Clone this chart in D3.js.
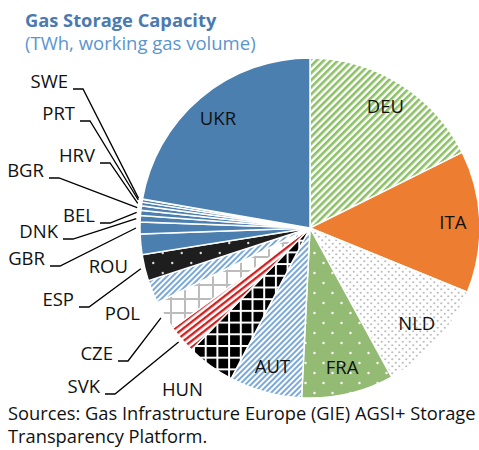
<!DOCTYPE html>
<html>
<head>
<meta charset="utf-8">
<script src="https://cdn.jsdelivr.net/npm/d3@7"></script>
<style>
  body { margin: 0; background: #fff; }
  text { font-family: "Open Sans", "Noto Sans", sans-serif; }
</style>
</head>
<body>
<svg id="chart" width="479" height="450"></svg>
<script>
// data, clockwise from 12 o'clock (TWh)
const countries = ["DEU", "ITA", "NLD", "FRA", "AUT", "HUN", "SVK", "CZE", "POL", "ESP",
                   "ROU", "GBR", "DNK", "BEL", "BGR", "HRV", "PRT", "SWE", "UKR"];
const capacity  = [254, 194, 156, 126, 99, 66, 39, 40, 32, 36,
                   28, 16, 9, 7, 6, 5, 4, 0.4, 320];

// labels drawn inside their slice
const insideLabels = ["UKR", "DEU", "ITA", "NLD", "FRA", "AUT"];

// outside labels: text end x, baseline y, with or without leader line
const outsideLabels = [
    {c: "SWE", x: 68,  y: 88,  leader: true},
    {c: "PRT", x: 75,  y: 120, leader: true},
    {c: "HRV", x: 95,  y: 162, leader: true},
    {c: "BGR", x: 44,  y: 177, leader: true},
    {c: "BEL", x: 95,  y: 222, leader: true},
    {c: "DNK", x: 58,  y: 238, leader: true},
    {c: "GBR", x: 45,  y: 265, leader: true},
    {c: "ROU", x: 128, y: 273, leader: false},
    {c: "ESP", x: 74,  y: 306, leader: true},
    {c: "POL", x: 140, y: 320, leader: false},
    {c: "CZE", x: 113, y: 360, leader: true},
    {c: "SVK", x: 100, y: 393, leader: true},
    {c: "HUN", x: 203, y: 396, leader: false}
];

const svg = d3.select("#chart");
const defs = svg.append("defs");

function stripes(id, color, period, w, angle) {
    const p = defs.append("pattern").attr("id", id)
        .attr("patternUnits", "userSpaceOnUse")
        .attr("width", period).attr("height", period)
        .attr("patternTransform", `rotate(${angle})`);
    p.append("rect").attr("width", period).attr("height", period).attr("fill", "#fff");
    p.append("rect").attr("width", w).attr("height", period).attr("fill", color);
}

function grid(id, bg, line, period, lw) {
    const p = defs.append("pattern").attr("id", id)
        .attr("patternUnits", "userSpaceOnUse")
        .attr("width", period).attr("height", period);
    p.append("rect").attr("width", period).attr("height", period).attr("fill", bg);
    p.append("rect").attr("width", lw).attr("height", period).attr("fill", line);
    p.append("rect").attr("width", period).attr("height", lw).attr("fill", line);
}

function dots(id, bg, dot, w, h, r) {
    const p = defs.append("pattern").attr("id", id)
        .attr("patternUnits", "userSpaceOnUse")
        .attr("width", w).attr("height", h);
    p.append("rect").attr("width", w).attr("height", h).attr("fill", bg);
    p.append("circle").attr("cx", w / 4).attr("cy", h / 4).attr("r", r).attr("fill", dot);
    p.append("circle").attr("cx", 3 * w / 4).attr("cy", 3 * h / 4).attr("r", r).attr("fill", dot);
}

stripes("pDEU", "#8cc066", 5, 2.6, 45);
stripes("pAUT", "#7aa8d8", 4, 2, 45);
stripes("pPOL", "#7aa8d8", 4, 2, 45);
stripes("pSVK", "#cc2222", 5, 2.4, 52);
grid("pHUN", "#000", "#fff", 11.7, 2);
grid("pCZE", "#fff", "#bcbcbc", 14, 2);
dots("pNLD", "#fff", "#bdbdbd", 7, 7, 1.1);
dots("pFRA", "#94bb74", "#fff", 18, 20, 1.2);
dots("pESP", "#1e1e1e", "#ddd", 19, 20, 1.2);

const solidBlue = "#4b7fb0";
const fillOf = {
    DEU: "url(#pDEU)", ITA: "#ed7d31", NLD: "url(#pNLD)", FRA: "url(#pFRA)",
    AUT: "url(#pAUT)", HUN: "url(#pHUN)", SVK: "url(#pSVK)", CZE: "url(#pCZE)",
    POL: "url(#pPOL)", ESP: "url(#pESP)"
};

// titles
svg.append("text").attr("x", 25).attr("y", 27)
    .attr("font-size", 18.3).attr("font-weight", "bold").attr("fill", "#4a7ab0")
    .text("Gas Storage Capacity");
svg.append("text").attr("x", 25).attr("y", 50)
    .attr("font-size", 18.5).attr("fill", "#5b95cf")
    .text("(TWh, working gas volume)");

// pie
const cx = 310, cy = 228, R = 170;
const data = countries.map((c, i) => ({c: c, v: capacity[i]}));
const pie = d3.pie().sort(null).value(d => d.v).startAngle(0).endAngle(2 * Math.PI);
const arcs = pie(data);
const arc = d3.arc().innerRadius(0).outerRadius(R);
const labelArc = d3.arc().innerRadius(143).outerRadius(143);

const g = svg.append("g").attr("transform", `translate(${cx},${cy})`);
g.selectAll("path.slice")
    .data(arcs)
    .enter()
    .append("path")
    .attr("class", "slice")
    .attr("d", arc)
    .attr("fill", d => fillOf[d.data.c] || solidBlue)
    .attr("stroke", "#fff")
    .attr("stroke-width", 1.5);

g.selectAll("text.inlab")
    .data(arcs.filter(d => insideLabels.includes(d.data.c)))
    .enter()
    .append("text")
    .attr("class", "inlab")
    .attr("transform", d => `translate(${labelArc.centroid(d)})`)
    .attr("text-anchor", "middle")
    .attr("dy", "0.36em")
    .attr("font-size", 18.5)
    .attr("fill", "#111")
    .text(d => d.data.c);

// outside labels with leader lines
const byName = {};
arcs.forEach(d => byName[d.data.c] = d);

outsideLabels.forEach(l => {
    svg.append("text")
        .attr("x", l.x).attr("y", l.y)
        .attr("text-anchor", "end")
        .attr("font-size", 18.5)
        .attr("fill", "#111")
        .text(l.c);
    if (l.leader) {
        const a = byName[l.c];
        const mid = (a.startAngle + a.endAngle) / 2;
        const px = cx + (R + 4) * Math.sin(mid);
        const py = cy - (R + 4) * Math.cos(mid);
        const ly = l.y + 1;
        svg.append("path")
            .attr("d", d3.line()([[l.x + 5, ly], [l.x + 15, ly], [px, py]]))
            .attr("fill", "none")
            .attr("stroke", "#000")
            .attr("stroke-width", 1.3);
    }
});

// source note
svg.append("text").attr("x", 8).attr("y", 420)
    .attr("font-size", 18.3).attr("fill", "#111")
    .text("Sources: Gas Infrastructure Europe (GIE) AGSI+ Storage");
svg.append("text").attr("x", 8).attr("y", 443)
    .attr("font-size", 18.3).attr("fill", "#111")
    .text("Transparency Platform.");
</script>
</body>
</html>
